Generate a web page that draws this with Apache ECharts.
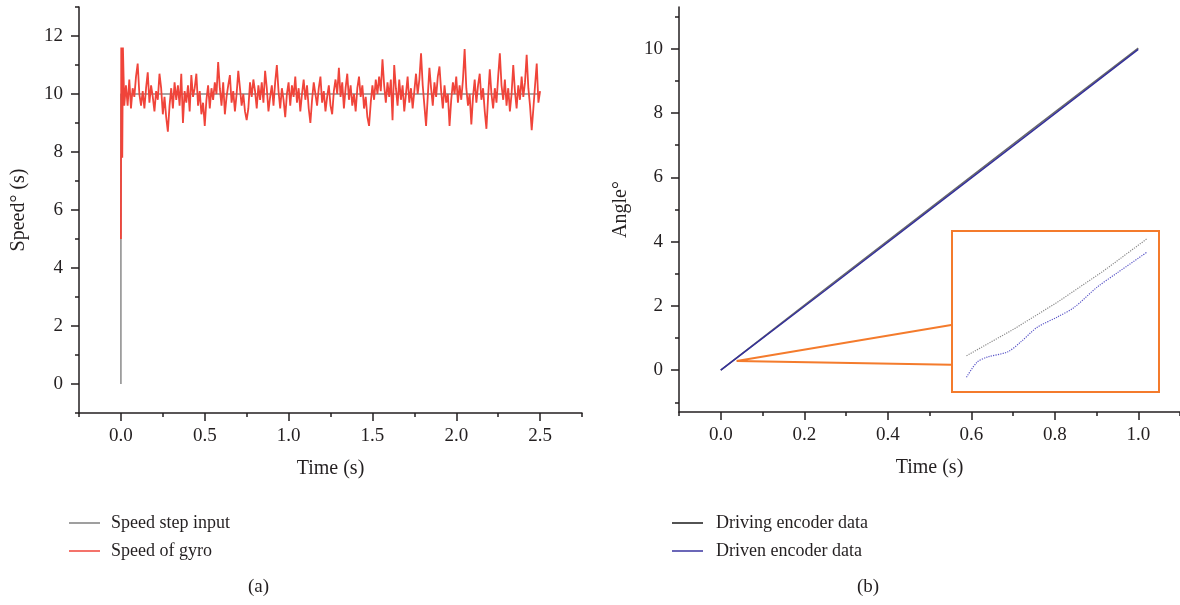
<!DOCTYPE html>
<html><head><meta charset="utf-8">
<script src="https://cdn.jsdelivr.net/npm/echarts@6/dist/echarts.min.js"></script>
<style>html,body{margin:0;padding:0;background:#fff}#c{width:1180px;height:605px}</style>
</head><body><div id="c"></div>
<script>
const FONT = '"Liberation Serif", "DejaVu Serif", serif';

// ---------- (a) speed step response ----------
const stepInputT = [0, 0, 2.5];
const stepInputV = [0, 10, 10];
const gyroSpikeT = [0, 0.002, 0.006, 0.008, 0.012, 0.016, 0.02];
const gyroSpikeV = [5.0, 11.6, 11.5, 7.8, 11.6, 10.6, 9.6];
const gyroStart = 0.03, gyroStep = 0.01;
const gyroV = [
 10.3, 9.6, 10.5, 9.5, 10.2, 9.9, 10.6,
 11.05, 10.0, 9.6, 10.1, 9.5, 10.2, 10.75, 9.7, 10.3, 9.9,
 9.4, 10.1, 9.8, 10.7, 10.2, 9.3, 9.9, 9.2, 8.7, 9.6,
 10.2, 9.5, 10.4, 9.8, 10.3, 9.6, 10.7, 9.0, 10.1, 9.7,
 10.3, 9.4, 10.65, 9.9, 10.2, 10.7, 9.6, 10.1, 9.3, 9.7,
 8.9, 9.8, 10.3, 9.5, 10.2, 9.8, 10.4, 10.0, 11.1, 10.2,
 9.6, 10.4, 9.3, 9.9, 10.3, 10.65, 9.7, 10.1, 9.4, 10.0,
 10.8, 10.2, 9.6, 10.0, 9.4, 9.1, 9.5, 10.4, 9.9, 10.5,
 10.1, 9.5, 10.3, 9.8, 10.4, 9.7, 10.8, 10.2, 9.4, 9.9,
 10.3, 9.6, 10.4, 11.0, 10.1, 9.5, 10.2, 9.8, 9.2, 10.0,
 10.4, 9.6, 10.3, 9.9, 10.6, 9.7, 10.2, 9.4, 10.0, 10.5,
 9.8, 10.3, 9.5, 9.0, 9.8, 10.4, 10.0, 9.6, 10.2, 10.6,
 9.7, 10.1, 9.4, 9.9, 10.3, 9.6, 9.3, 10.1, 10.5, 10.0,
 10.9, 9.9, 10.4, 9.5, 10.2, 10.7, 9.8, 10.3, 9.6, 10.0,
 9.4, 10.2, 10.6, 9.9, 10.3, 9.5, 9.9, 9.2, 8.9, 9.7,
 10.3, 9.8, 10.5, 10.0, 10.6, 10.1, 11.2, 10.3, 9.7, 10.4,
 9.9, 10.5, 9.1, 11.0, 10.2, 9.6, 10.5, 9.8, 10.3, 9.4,
 10.0, 10.6, 9.7, 10.2, 9.5, 10.1, 10.7, 10.0, 10.5, 11.4,
 10.3, 9.6, 8.9, 9.9, 10.9, 10.2, 9.6, 10.4, 9.9, 10.6,
 10.95, 10.1, 9.5, 10.3, 9.7, 10.0, 8.9, 9.8, 10.4, 10.0,
 10.6, 9.7, 10.3, 9.8, 10.5, 11.55, 10.2, 9.6, 10.0, 8.95,
 9.9, 10.5, 9.7, 10.3, 10.7, 9.8, 10.2, 9.4, 8.8, 9.9,
 10.85, 10.0, 9.5, 10.2, 9.7, 10.6, 11.4, 10.3, 9.8, 10.5,
 9.6, 10.2, 9.4, 10.0, 11.0, 10.1, 9.5, 10.3, 9.8, 10.6,
 9.9, 10.4, 11.35, 10.2, 9.6, 8.75, 9.5, 10.3, 11.05, 9.7,
 10.1
];
const axisA_xLabels = [0, 0.5, 1, 1.5, 2, 2.5];
const axisA_xMinor = [-0.25, 0.25, 0.75, 1.25, 1.75, 2.25, 2.75];
const axisA_yLabels = [0, 2, 4, 6, 8, 10, 12];
const axisA_yMinor = [-1, 1, 3, 5, 7, 9, 11, 13];

// ---------- (b) encoder angles ----------
const encT = [0, 0.25, 0.5, 0.75, 1.0];
const drivingV = [0, 2.52, 5.03, 7.53, 10.02];
const drivenV = [0, 2.48, 4.98, 7.48, 9.98];
// zoomed inset (time s, angle °)
const insetDrivingT = [0.0307, 0.0330, 0.0351, 0.0373, 0.0394];
const insetDrivingV = [0.307, 0.327, 0.347, 0.370, 0.394];
const insetDrivenT = [0.0307, 0.0312, 0.0317, 0.0327, 0.0333, 0.0341, 0.0351, 0.0359, 0.0370, 0.0380, 0.0394];
const insetDrivenV = [0.291, 0.302, 0.306, 0.310, 0.317, 0.328, 0.336, 0.343, 0.358, 0.369, 0.384];
// connector from the zoomed spot to the inset box
const connT = [0.552, 0.038, 0.552];
const connV = [1.41, 0.29, 0.17];
const axisB_xLabels = [0, 0.2, 0.4, 0.6, 0.8, 1.0];
const axisB_xMinor = [-0.1, 0.1, 0.3, 0.5, 0.7, 0.9, 1.1];
const axisB_yLabels = [0, 2, 4, 6, 8, 10];
const axisB_yMinor = [-1, 1, 3, 5, 7, 9, 11];

// ---------- build ----------
const zip = (a, b) => a.map((v, i) => [v, b[i]]);
const gyroData = zip(gyroSpikeT, gyroSpikeV).concat(gyroV.map((v, i) => [+(gyroStart + i * gyroStep).toFixed(3), v]));

const AX = '#231f20';
const txt = { fontFamily: FONT, color: AX };

function majorAxis(type, opt) {
  return Object.assign({
    type: 'value', gridIndex: opt.grid, min: opt.min, max: opt.max,
    axisLine: { show: true, onZero: false, lineStyle: { color: AX, width: 1.5 } },
    axisTick: { show: true, inside: false, length: 8, customValues: opt.labels, lineStyle: { color: AX, width: 1.5 } },
    axisLabel: Object.assign({ customValues: opt.labels, fontSize: 19, margin: opt.margin, formatter: opt.fmt }, txt),
    splitLine: { show: false },
    name: opt.name, nameLocation: 'middle', nameGap: opt.nameGap,
    nameTextStyle: Object.assign({ fontSize: 20 }, txt)
  }, type === 'x' ? { position: 'bottom' } : { position: 'left' });
}
function minorAxis(type, opt) {
  return Object.assign({
    type: 'value', gridIndex: opt.grid, min: opt.min, max: opt.max,
    axisLine: { show: false, onZero: false },
    axisTick: { show: true, inside: false, length: 4, customValues: opt.minor, lineStyle: { color: AX, width: 1.5 } },
    axisLabel: { show: false }, splitLine: { show: false }
  }, type === 'x' ? { position: 'bottom' } : { position: 'left' });
}
const hiddenAxis = (grid, min, max) => ({ type: 'value', gridIndex: grid, min, max, show: false, splitLine: { show: false } });

const fmt1 = v => v.toFixed(1);
const fmt0 = v => String(Math.round(v));

const xa = { grid: 0, min: -0.25, max: 2.75, labels: axisA_xLabels, minor: axisA_xMinor, margin: 14, fmt: fmt1, name: 'Time (s)', nameGap: 46 };
const ya = { grid: 0, min: -1, max: 13, labels: axisA_yLabels, minor: axisA_yMinor, margin: 16, fmt: fmt0, name: 'Speed° (s)', nameGap: 50 };
const xb = { grid: 1, min: -0.1, max: 1.1, labels: axisB_xLabels, minor: axisB_xMinor, margin: 14, fmt: fmt1, name: 'Time (s)', nameGap: 46 };
const yb = { grid: 1, min: -1.3, max: 11.3, labels: axisB_yLabels, minor: axisB_yMinor, margin: 16, fmt: fmt0, name: 'Angle°', nameGap: 48 };

const option = {
  backgroundColor: '#fff',
  animation: false,
  grid: [
    { left: 79, top: 7, width: 503, height: 406 },
    { left: 679, top: 7, right: 0, height: 405 },
    { left: 952, top: 231, width: 207, height: 161, show: true, borderColor: '#f47b2c', borderWidth: 2, backgroundColor: '#fff', z: 5 }
  ],
  xAxis: [majorAxis('x', xa), minorAxis('x', xa), majorAxis('x', xb), minorAxis('x', xb), hiddenAxis(2, 0.030, 0.040)],
  yAxis: [majorAxis('y', ya), minorAxis('y', ya), majorAxis('y', yb), minorAxis('y', yb), hiddenAxis(2, 0.28, 0.40)],
  legend: [
    { orient: 'vertical', left: 69, top: 514, padding: 0, itemWidth: 31, itemHeight: 1.5, itemGap: 10, icon: 'rect',
      textStyle: Object.assign({ fontSize: 18, padding: [0, 0, 0, 6] }, txt),
      data: ['Speed step input', 'Speed of gyro'] },
    { orient: 'vertical', left: 672, top: 514, padding: 0, itemWidth: 31, itemHeight: 1.5, itemGap: 10, icon: 'rect',
      textStyle: Object.assign({ fontSize: 18, padding: [0, 0, 0, 8] }, txt),
      data: ['Driving encoder data', 'Driven encoder data'] }
  ],
  graphic: [
    { type: 'text', left: 248, top: 578, style: Object.assign({ text: '(a)', font: '19px ' + FONT, fill: AX }) },
    { type: 'text', left: 857, top: 578, style: Object.assign({ text: '(b)', font: '19px ' + FONT, fill: AX }) }
  ],
  series: [
    { name: 'Speed step input', type: 'line', xAxisIndex: 0, yAxisIndex: 0, data: zip(stepInputT, stepInputV), showSymbol: false,
      color: '#7f7f7f', lineStyle: { width: 1.5, color: '#8a8a8a' }, z: 2 },
    { name: 'Speed of gyro', type: 'line', xAxisIndex: 0, yAxisIndex: 0, data: gyroData, showSymbol: false,
      color: '#f0443a', lineStyle: { width: 1.8, color: '#f0443a' }, z: 3 },
    { name: 'Driving encoder data', type: 'line', xAxisIndex: 2, yAxisIndex: 2, data: zip(encT, drivingV), showSymbol: false,
      color: '#1a1a1a', lineStyle: { width: 1.5, color: '#6a6a6a' }, z: 2 },
    { name: 'Driven encoder data', type: 'line', xAxisIndex: 2, yAxisIndex: 2, data: zip(encT, drivenV), showSymbol: false,
      color: '#3a35a0', lineStyle: { width: 1.5, color: '#34309a' }, z: 3 },
    { name: 'connector', type: 'line', xAxisIndex: 2, yAxisIndex: 2, data: zip(connT, connV), showSymbol: false, silent: true,
      lineStyle: { width: 2, color: '#f47b2c' }, z: 4 },
    { name: 'inset driving', type: 'line', xAxisIndex: 4, yAxisIndex: 4, data: zip(insetDrivingT, insetDrivingV), showSymbol: false, silent: true,
      lineStyle: { width: 1.2, color: '#8a8a8a', type: 'dotted' }, z: 6 },
    { name: 'inset driven', type: 'line', xAxisIndex: 4, yAxisIndex: 4, data: zip(insetDrivenT, insetDrivenV), showSymbol: false, silent: true, smooth: 0.3,
      lineStyle: { width: 1.2, color: '#5a56c8', type: 'dotted' }, z: 6 }
  ]
};
const chart = echarts.init(document.getElementById('c'), null, { renderer: 'canvas' });
chart.setOption(option);
</script>
</body></html>
